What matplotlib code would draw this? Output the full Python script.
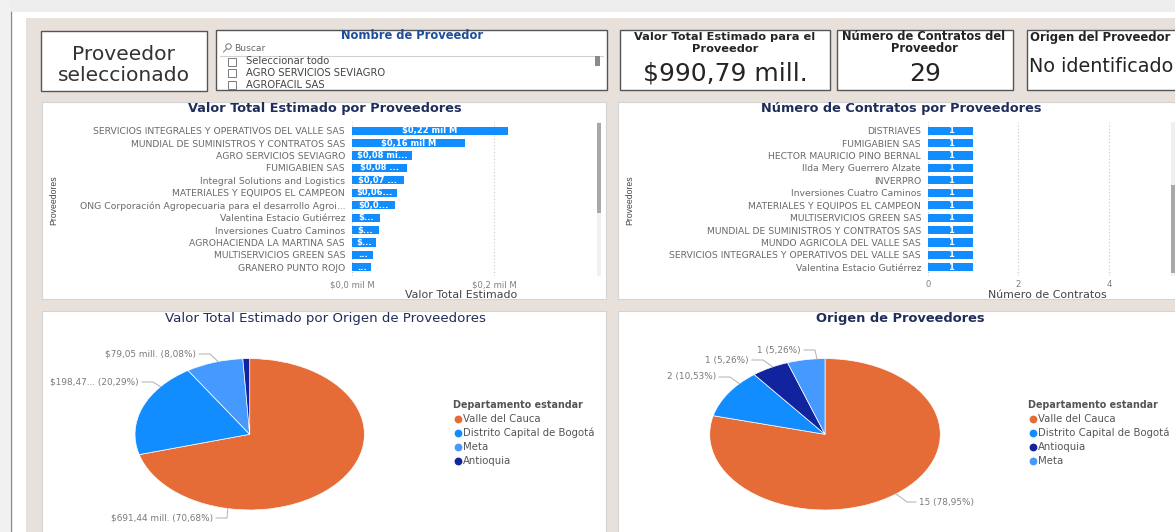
import matplotlib
matplotlib.use('Agg')
import matplotlib.pyplot as plt
from matplotlib.patches import Rectangle, Ellipse
from matplotlib.lines import Line2D
import numpy as np

W, H = 1175, 532
DPI = 100

# ---------------- data ----------------
valor_names = ['SERVICIOS INTEGRALES Y OPERATIVOS DEL VALLE SAS',
               'MUNDIAL DE SUMINISTROS Y CONTRATOS SAS',
               'AGRO SERVICIOS SEVIAGRO',
               'FUMIGABIEN SAS',
               'Integral Solutions and Logistics',
               'MATERIALES Y EQUIPOS EL CAMPEON',
               'ONG Corporación Agropecuaria para el desarrollo Agroi...',
               'Valentina Estacio Gutiérrez',
               'Inversiones Cuatro Caminos',
               'AGROHACIENDA LA MARTINA SAS',
               'MULTISERVICIOS GREEN SAS',
               'GRANERO PUNTO ROJO']
valor_values = [0.219, 0.159, 0.084, 0.078, 0.073, 0.063, 0.060, 0.039, 0.038, 0.034, 0.030, 0.027]
valor_bar_labels = ['$0,22 mil M', '$0,16 mil M', '$0,08 mi...', '$0,08 ...', '$0,07 ...',
                    '$0,06...', '$0,0...', '$...', '$...', '$...', '...', '...']
valor_ticks = [0.0, 0.2]
valor_ticklabels = ['$0,0 mil M', '$0,2 mil M']

contr_names = ['DISTRIAVES', 'FUMIGABIEN SAS', 'HECTOR MAURICIO PINO BERNAL',
               'Ilda Mery Guerrero Alzate', 'INVERPRO', 'Inversiones Cuatro Caminos',
               'MATERIALES Y EQUIPOS EL CAMPEON', 'MULTISERVICIOS GREEN SAS',
               'MUNDIAL DE SUMINISTROS Y CONTRATOS SAS', 'MUNDO AGRICOLA DEL VALLE SAS',
               'SERVICIOS INTEGRALES Y OPERATIVOS DEL VALLE SAS', 'Valentina Estacio Gutiérrez']
contr_values = [1, 1, 1, 1, 1, 1, 1, 1, 1, 1, 1, 1]
contr_ticks = [0, 2, 4]
contr_ticklabels = ['0', '2', '4']

origen_valor_cats = ['Valle del Cauca', 'Distrito Capital de Bogotá', 'Meta', 'Antioquia']
origen_valor = [691.44, 198.47, 79.05, 9.33]
origen_valor_text = ['$691,44 mill. (70,68%)', '$198,47... (20,29%)', '$79,05 mill. (8,08%)', '']

origen_count_cats = ['Valle del Cauca', 'Distrito Capital de Bogotá', 'Antioquia', 'Meta']
origen_count = [15, 2, 1, 1]
origen_count_text = ['15 (78,95%)', '2 (10,53%)', '1 (5,26%)', '1 (5,26%)']

slicer_items = ['Seleccionar todo', 'AGRO SERVICIOS SEVIAGRO', 'AGROFACIL SAS']
kpi_valor = '$990,79 mill.'
kpi_contratos = '29'
kpi_origen = 'No identificado'

# ---------------- style ----------------
COLORS = {'Valle del Cauca': '#E66C37', 'Distrito Capital de Bogotá': '#118DFF',
          'Meta': '#4599FF', 'Antioquia': '#12239E'}
BAR = '#118DFF'
TITLE_C = '#1F2D5A'
UI = 'DejaVu Sans'

fig = plt.figure(figsize=(W / DPI, H / DPI), dpi=DPI)
fig.patch.set_facecolor('white')


def rect(x0, y0, x1, y1, fc, ec='none', lw=0.0, z=-5):
    fig.add_artist(Rectangle((x0 / W, 1 - y1 / H), (x1 - x0) / W, (y1 - y0) / H,
                             transform=fig.transFigure, facecolor=fc, edgecolor=ec,
                             linewidth=lw, zorder=z))


def text(x, y, s, **kw):
    kw.setdefault('va', 'center')
    kw.setdefault('family', UI)
    return fig.text(x / W, 1 - y / H, s, **kw)


def line(xs, ys, z=2, **kw):
    fig.add_artist(Line2D([x / W for x in xs], [1 - y / H for y in ys],
                          transform=fig.transFigure, zorder=z, **kw))


def axes(x0, y0, x1, y1):
    a = fig.add_axes([x0 / W, 1 - y1 / H, (x1 - x0) / W, (y1 - y0) / H])
    a.set_facecolor('none')
    return a


# ---------------- background ----------------
rect(0, 0, W, 12, '#EEEEEE', z=-20)
rect(0, 0, 10, H, '#F1F1F1', z=-19)
line([10.5, 10.5], [12, H], color='#8a8a8a', lw=1.0, z=-18)
rect(26, 18, W + 5, H + 5, '#E8E0DB', z=-15)

# cards
for (x0, y0, x1, y1) in [(42, 102, 606, 299), (618, 102, W + 5, 299),
                         (42, 311, 606, H + 5), (618, 311, W + 5, H + 5)]:
    rect(x0, y0, x1, y1, 'white', ec='#d4d4d4', lw=0.8, z=-10)

# ---------------- top row ----------------
rect(41, 31, 207, 91, 'white', ec='#555555', lw=1.0, z=-8)
text(124, 54, 'Proveedor', ha='center', fontsize=14.6, color='#333333')
text(124, 75.5, 'seleccionado', ha='center', fontsize=14.6, color='#333333')

rect(216, 30, 607, 90, 'white', ec='#555555', lw=1.0, z=-8)
text(412, 35.5, 'Nombre de Proveedor', ha='center', fontsize=8.3,
     fontweight='bold', color='#1F4E9A')
fig.add_artist(Ellipse((228.5 / W, 1 - 46.5 / H), 5.5 / W, 5.5 / H, transform=fig.transFigure,
                       facecolor='none', edgecolor='#777777', lw=0.7, zorder=3))
line([226.5, 223.5], [49, 52], color='#777777', lw=0.7, z=3)
text(234, 48.5, 'Buscar', ha='left', fontsize=6.6, color='#666666')
line([220, 603], [55.5, 55.5], color='#d0d0d0', lw=0.8, z=-7)
for i, item in enumerate(slicer_items):
    yy = 61.5 + i * 11.5
    rect(228, yy - 4, 236, yy + 4, 'white', ec='#7a7a7a', lw=0.7, z=-6)
    text(246, yy, item, ha='left', fontsize=7.2, color='#444444')
rect(595, 56, 600, 66, '#8a8a8a', z=-6)

rect(620, 30, 830, 90, 'white', ec='#555555', lw=1.0, z=-8)
text(725, 37, 'Valor Total Estimado para el', ha='center', fontsize=8.2,
     fontweight='bold', color='#252423')
text(725, 49, 'Proveedor', ha='center', fontsize=8.2, fontweight='bold', color='#252423')
text(725, 74, kpi_valor, ha='center', fontsize=18, color='#252423')

rect(837, 30, 1013, 90, 'white', ec='#555555', lw=1.0, z=-8)
text(924, 37, 'Número de Contratos del', ha='center', fontsize=8.3,
     fontweight='bold', color='#252423')
text(924, 49, 'Proveedor', ha='center', fontsize=8.3, fontweight='bold', color='#252423')
text(925, 74, kpi_contratos, ha='center', fontsize=18, color='#252423')

rect(1027, 30, W + 20, 90, 'white', ec='#555555', lw=1.0, z=-8)
text(1030, 37, 'Origen del Proveedor', ha='left', fontsize=8.4,
     fontweight='bold', color='#252423')
text(1029, 66, kpi_origen, ha='left', fontsize=13.8, color='#252423')

# ---------------- bar charts ----------------
def bar_chart(x0, x1, names, values, xmax, ticks, ticklabels, labels, title, tx, xtitle, xtx, ytx):
    ax = axes(x0, 122, x1, 276)
    n = len(names)
    y = np.arange(n)
    ax.barh(y, values, height=0.66, color=BAR, zorder=2)
    ax.set_ylim(n - 0.3, -0.7)
    ax.set_xlim(0, xmax)
    ax.set_yticks(y)
    ax.set_yticklabels(names, fontsize=6.7, family=UI, color='#6a6a6a')
    ax.set_xticks(ticks)
    ax.set_xticklabels(ticklabels, fontsize=6.1, family=UI, color='#808080')
    ax.tick_params(axis='y', length=0, pad=5)
    ax.tick_params(axis='x', length=0, pad=3)
    for s in ax.spines.values():
        s.set_visible(False)
    ax.grid(axis='x', linestyle=(0, (1, 2)), color='#c8c8c8', lw=0.8, zorder=0)
    ax.set_axisbelow(True)
    for yi, v, lab in zip(y, values, labels):
        ax.text(v / 2, yi, lab, ha='center', va='center', color='white',
                fontsize=6.0, family=UI, fontweight='bold', zorder=3)
    text(tx, 108.5, title, ha='center', fontsize=9.3, fontweight='bold', color=TITLE_C)
    text(xtx, 294.5, xtitle, ha='center', fontsize=7.9, color='#444444')
    text(ytx, 200, 'Proveedores', ha='center', rotation=90, fontsize=6.2,
         family='Liberation Sans', color='#444444')
    return ax


bar_chart(352, 570, valor_names, valor_values, 0.307, valor_ticks, valor_ticklabels,
          valor_bar_labels, 'Valor Total Estimado por Proveedores', 325,
          'Valor Total Estimado', 461, 54)
bar_chart(928, 1166, contr_names, contr_values, 5.26, contr_ticks, contr_ticklabels,
          [str(v) for v in contr_values], 'Número de Contratos por Proveedores', 901,
          'Número de Contratos', 1047, 630)

# scrollbars
rect(597, 122, 601, 276, '#f0f0f0', z=-6)
rect(597, 123, 601, 213, '#a8a8a8', z=-5)
rect(1171, 122, 1175, 276, '#f0f0f0', z=-6)
rect(1171, 185, 1175, 273, '#a8a8a8', z=-5)

# ---------------- pies ----------------
def pie_chart(cx, cy, rx, ry, cats, values, texts, angles, elbows, sides, title, tx, bold,
              lx):
    ax = axes(cx - rx, cy - ry, cx + rx, cy + ry)
    ax.pie(values, colors=[COLORS[c] for c in cats], startangle=90, counterclock=False,
           radius=1.0, wedgeprops=dict(edgecolor='white', linewidth=0.5))
    ax.set_aspect('auto')
    ax.set_xlim(-1, 1)
    ax.set_ylim(-1, 1)
    for t, a, (ex, ey), side in zip(texts, angles, elbows, sides):
        if not t:
            continue
        axp = cx + rx * np.cos(np.radians(a))
        ayp = cy - ry * np.sin(np.radians(a))
        if side == 'L':
            line([axp, ex, ex - 11], [ayp, ey, ey], color='#b0b0b0', lw=0.7)
            text(ex - 14, ey, t, ha='right', fontsize=6.4, color='#7a7a7a')
        else:
            line([axp, ex, ex + 9], [ayp, ey, ey], color='#b0b0b0', lw=0.7)
            text(ex + 12, ey, t, ha='left', fontsize=6.4, color='#7a7a7a')
    text(tx, 318.5, title, ha='center', fontsize=9.35 if bold else 9.6,
         fontweight='bold' if bold else 'normal', color=TITLE_C)
    # legend
    text(lx, 405, 'Departamento estandar', ha='left', fontsize=6.9,
         fontweight='bold', color='#555555')
    for i, c in enumerate(cats):
        yy = 418.5 + i * 14.3
        line([lx + 5], [yy], marker='o', markersize=4.6, color=COLORS[c], lw=0, z=3)
        text(lx + 10, yy, c, ha='left', fontsize=7.3, color='#555555')


pie_chart(249.7, 434.3, 114.7, 75.7, origen_valor_cats, origen_valor, origen_valor_text,
          [259, 141, 106, 0], [(227, 518), (153, 382), (210, 354), (0, 0)], ['L', 'L', 'L', 'L'],
          'Valor Total Estimado por Origen de Proveedores', 325, False, 453)
pie_chart(825, 434.3, 115.3, 75.7, origen_count_cats, origen_count, origen_count_text,
          [-52, 138, 117, 94], [(907, 502), (730, 377), (763, 360), (815, 350)],
          ['R', 'L', 'L', 'L'],
          'Origen de Proveedores', 900, True, 1028)

fig.savefig('out.png', dpi=DPI)
